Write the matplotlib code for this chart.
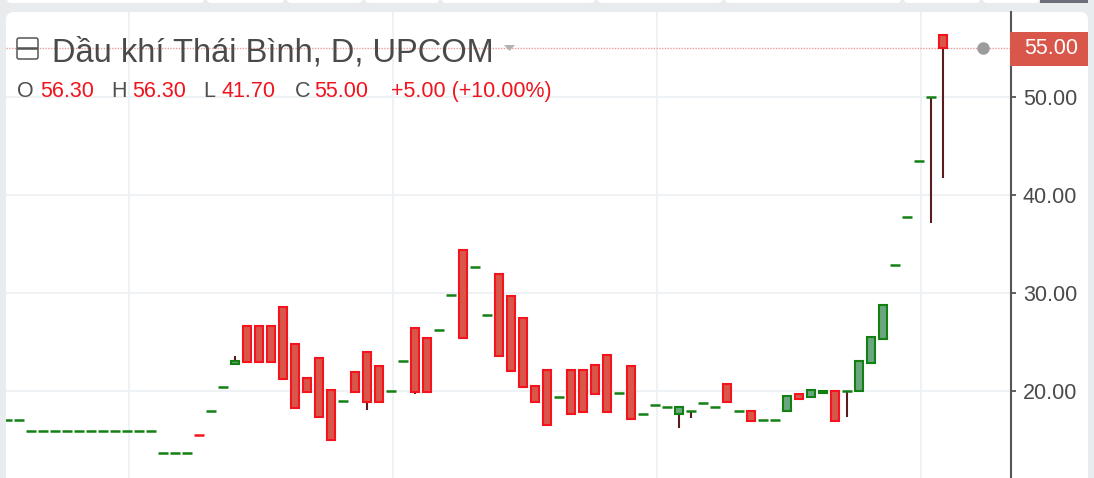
import numpy as np
import matplotlib
matplotlib.use('Agg')
import matplotlib.pyplot as plt
from matplotlib.patches import Rectangle, FancyBboxPatch, Polygon
from matplotlib.transforms import IdentityTransform

# OHLC, one candle per session
opens = [17.0, 17.0] + [15.9] * 11 + [13.7] * 3 + [15.6, 18.0, 20.4, 22.8,
         26.6, 26.6, 26.6, 28.6, 24.8, 21.3, 23.4, 20.1, 19.0, 21.9, 24.0, 22.5,
         20.0, 23.1, 26.4, 25.4, 26.2, 29.8, 34.4, 32.7, 27.8, 31.9, 29.7, 27.4,
         20.5, 22.1, 19.4, 22.1, 22.1, 22.7, 23.7, 19.8, 22.5, 17.6, 18.6, 18.4,
         17.7, 18.0, 18.8, 18.4, 20.7, 18.0, 18.0, 17.0, 17.0, 18.0, 19.7, 19.4,
         19.8, 20.0, 20.0, 20.0, 22.9, 25.3, 32.9, 37.8, 43.5, 50.0, 56.3]
closes = [17.0, 17.0] + [15.9] * 11 + [13.7] * 3 + [15.5, 18.0, 20.4, 23.1,
          23.0, 23.0, 23.0, 21.2, 18.3, 19.9, 17.3, 15.0, 19.0, 19.9, 18.9, 18.9,
          20.0, 23.1, 19.9, 19.9, 26.2, 29.8, 25.4, 32.7, 27.8, 23.6, 22.0, 20.4,
          18.9, 16.5, 19.4, 17.7, 17.9, 19.7, 17.9, 19.8, 17.1, 17.6, 18.6, 18.4,
          18.4, 18.0, 18.8, 18.4, 18.9, 18.0, 16.9, 17.0, 17.0, 19.5, 19.2, 20.1,
          20.0, 16.9, 20.0, 23.1, 25.5, 28.8, 32.9, 37.8, 43.5, 50.0, 55.0]
# only the sessions with a visible wick differ from the body
highs = [max(o, c) for o, c in zip(opens, closes)]
lows = [min(o, c) for o, c in zip(opens, closes)]
highs[19] = 23.6
lows[30] = 18.1
lows[34] = 19.7
lows[56] = 16.2
lows[57] = 17.2
lows[70] = 17.3
lows[77] = 37.1
lows[78] = 41.7

y_ticks = [20, 30, 40, 50]
y_labels = ['20.00', '30.00', '40.00', '50.00']
last_price = 55.00
vgrid = [10.17, 32.17, 54.17, 76.17]

W, H = 1094, 478
px = IdentityTransform()


def Y(y):
    return H - y


RED_FILL = '#d8574a'
RED_EDGE = '#f5141e'
GREEN_FILL = '#6ba680'
GREEN_EDGE = '#128012'
WICK = '#5a1c1c'

fig = plt.figure(figsize=(W / 100, H / 100), dpi=100)
fig.patch.set_facecolor('#e9ecef')

# card + top tabs
fig.add_artist(FancyBboxPatch((6, Y(520)), 1082, 508, boxstyle='round,pad=0,rounding_size=8',
                              fc='white', ec='none', transform=px, zorder=-2))
tabs = [(7, 204), (207, 284), (287, 362), (365, 439), (442, 595), (598, 722),
        (725, 901), (904, 980), (983, 1039)]
for a, b in tabs:
    fig.add_artist(FancyBboxPatch((a, Y(3)), b - a, 20, boxstyle='round,pad=0,rounding_size=4',
                                  fc='white', ec='none', transform=px, zorder=-2))
fig.add_artist(Rectangle((1040, Y(3)), 48, 10, fc='#6b6e7b', ec='none', transform=px, zorder=-2))

ax = fig.add_axes([6 / W, 0, 1005 / W, 466 / H])
ax.set_facecolor('none')
ax.set_xlim(-1 / 12, (1011 - 7) / 12)
ax.set_ylim(11.12, 58.67)
for s in ['top', 'left', 'bottom']:
    ax.spines[s].set_visible(False)
ax.spines['right'].set_color('#555555')
ax.spines['right'].set_linewidth(1.5)
ax.yaxis.tick_right()
ax.set_yticks(y_ticks)
ax.set_yticklabels(y_labels)
ax.tick_params(axis='y', direction='out', length=3.6, width=1.3, color='#555555',
               labelsize=15.5, labelcolor='#4a4a4a', pad=5)
for t in ax.get_yticklabels():
    t.set_fontfamily('Liberation Sans')
ax.set_xticks(vgrid)
ax.tick_params(axis='x', length=0, labelbottom=False)
ax.grid(True, color='#eef1f5', linewidth=1.3)
ax.set_axisbelow(True)

bw = 0.667
for i, (o, h, l, c) in enumerate(zip(opens, highs, lows, closes)):
    lo, hi = min(o, c), max(o, c)
    if l < lo:
        ax.vlines(i, l, lo, color=WICK, linewidth=1.5, zorder=2)
    if h > hi:
        ax.vlines(i, hi, h, color=WICK, linewidth=1.5, zorder=2)
    if (hi - lo) * 9.8 < 1.5:
        col = RED_EDGE if c < o else GREEN_EDGE
        ax.hlines((o + c) / 2, i - 0.417, i + 0.417, color=col, linewidth=1.8, zorder=3)
    else:
        fc, ec = (GREEN_FILL, GREEN_EDGE) if c > o else (RED_FILL, RED_EDGE)
        ax.add_patch(Rectangle((i - bw / 2, lo), bw, hi - lo, fc=fc, ec=ec,
                               linewidth=1.5, zorder=3))

# last price line, marker and label
ax.axhline(last_price, color='#eb9a9a', linewidth=1, linestyle=(0, (1, 1)), zorder=1)
ax.plot([(983 - 7) / 12], [last_price], 'o', color='#9c9c9c', markersize=8, zorder=4)
fig.add_artist(Rectangle((1010, Y(66)), 78, 34, fc='#d8574a', ec='none', transform=px, zorder=2))
fig.text(1024, Y(48), '55.00', transform=px, color='white', fontsize=15.5,
         family='Liberation Sans', va='center', ha='left', zorder=3)

# header
fig.add_artist(FancyBboxPatch((17, Y(59)), 21, 21, boxstyle='round,pad=0,rounding_size=2',
                              fc='none', ec='#555555', linewidth=1.1, transform=px, zorder=3))
fig.add_artist(Rectangle((18, Y(48.5)), 19, 0.01, fc='none', ec='#555555', linewidth=1.1,
                         transform=px, zorder=3))
fig.text(52, Y(62), 'Dầu khí Thái Bình, D, UPCOM', transform=px, color='#4a4a4a',
         fontsize=23.5, family='Liberation Sans', va='baseline', ha='left', zorder=3)
fig.add_artist(Polygon([(504, Y(45)), (515, Y(45)), (509.5, Y(51))], closed=True,
                       fc='#b3b3b3', ec='none', transform=px, zorder=3))

ohlc = [('O', 17, '56.30', 40), ('H', 111, '56.30', 132), ('L', 203, '41.70', 222),
        ('C', 295, '55.00', 314)]
for key, kx, val, vx in ohlc:
    fig.text(kx, Y(97), key, transform=px, color='#4f4f4f', fontsize=15.5,
             family='Liberation Sans', va='baseline', ha='left', zorder=3)
    fig.text(vx, Y(97), val, transform=px, color='#f0141e', fontsize=15.5,
             family='Liberation Sans', va='baseline', ha='left', zorder=3)
fig.text(391, Y(97), '+5.00 (+10.00%)', transform=px, color='#f0141e', fontsize=15.5,
         family='Liberation Sans', va='baseline', ha='left', zorder=3)

fig.savefig('out.png', dpi=100, facecolor=fig.get_facecolor())
